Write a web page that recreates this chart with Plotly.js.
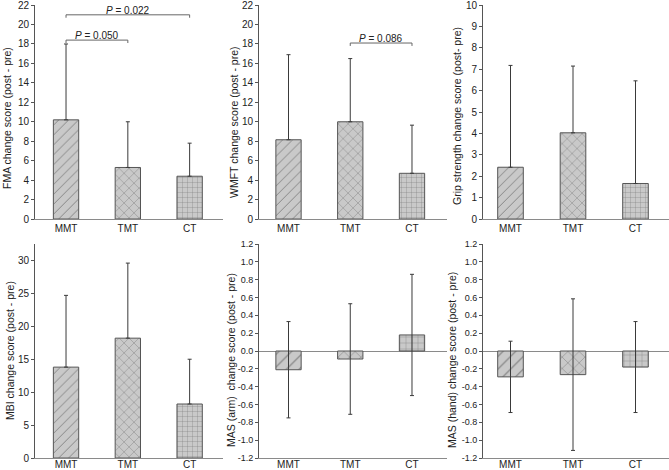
<!DOCTYPE html>
<html>
<head>
<meta charset="utf-8">
<script src="https://cdn.plot.ly/plotly-3.0.1.min.js"></script>
<style>html,body{margin:0;padding:0;background:#fff;}#chart{width:669px;height:470px;}</style>
</head>
<body>
<div id="chart"></div>
<script>
// ---- data ----
const categories = ['MMT', 'TMT', 'CT'];
const patterns = ['/', 'x', '+'];

const fmaMean = [10.2, 5.3, 4.4];
const fmaSD = [7.8, 4.7, 3.4];
const wmftMean = [8.15, 10.0, 4.7];
const wmftSD = [8.75, 6.5, 4.95];
const gripMean = [2.42, 4.03, 1.66];
const gripSD = [4.76, 3.12, 4.8];
const mbiMean = [13.8, 18.2, 8.2];
const mbiSD = [10.9, 11.4, 6.8];
const masArmMean = [-0.21, -0.09, 0.18];
const masArmSD = [0.54, 0.62, 0.68];
const masHandMean = [-0.29, -0.265, -0.18];
const masHandSD = [0.40, 0.85, 0.51];

const titles = [
  'FMA change score (post - pre)',
  'WMFT change score (post - pre)',
  'Grip strength change score (post- pre)',
  'MBI change score (post - pre)',
  'MAS (arm)  change score (post - pre)',
  'MAS (hand) change score (post - pre)'
];

const masTickVals = [-1.2, -1.0, -0.8, -0.6, -0.4, -0.2, 0.0, 0.2, 0.4, 0.6, 0.8, 1.0, 1.2];
const masTickText = ['-1.2', '-1.0', '-0.8', '-0.6', '-0.4', '-0.2', '0.0', '0.2', '0.4', '0.6', '0.8', '1.0', '1.2'];

// significance comparisons
const compPanel = [1, 1, 2];
const compFrom = ['MMT', 'MMT', 'TMT'];
const compTo = ['TMT', 'CT', 'CT'];
const compY = [18.4, 21.0, 18.1];
const compLabel = ['<i>P</i> = 0.050', '<i>P</i> = 0.022', '<i>P</i> = 0.086'];

// ---- build ----
const FONT = 'Liberation Sans, Arial, sans-serif';
const panels = [
  {mean: fmaMean, sd: fmaSD, oneSided: true, size: [7, 7, 5]},
  {mean: wmftMean, sd: wmftSD, oneSided: true, size: [7, 7, 5]},
  {mean: gripMean, sd: gripSD, oneSided: true, size: [7, 7, 5]},
  {mean: mbiMean, sd: mbiSD, oneSided: true, size: [7, 7, 5]},
  {mean: masArmMean, sd: masArmSD, oneSided: false, size: [9, 8, 6]},
  {mean: masHandMean, sd: masHandSD, oneSided: false, size: [9, 8, 6]}
];

const traces = panels.map((p, i) => ({
  type: 'bar',
  x: categories,
  y: p.mean,
  xaxis: 'x' + (i + 1),
  yaxis: 'y' + (i + 1),
  width: 0.41,
  marker: {
    color: '#c9c9c9',
    line: {color: '#555', width: 1},
    pattern: {shape: patterns, size: p.size, solidity: 0.12, fgcolor: '#7a7a7a', bgcolor: '#c9c9c9', fillmode: 'replace'}
  },
  error_y: {
    type: 'data', array: p.sd,
    arrayminus: p.oneSided ? p.sd.map(() => 0) : p.sd,
    symmetric: false,
    color: '#3a3a3a', thickness: 1, width: 2
  },
  hoverinfo: 'skip',
  showlegend: false
}));

const W = 669, H = 470;
const xDom = [[35 / W, 223 / W], [259 / W, 447 / W], [483 / W, 1.0]];
const xRng = [[-0.502, 2.54], [-0.478, 2.567], [-0.44, 2.536]];
const yDom = [[1 - 219 / H, 1 - 5 / H], [1 - 458 / H, 1 - 244 / H]];
const yRanges = [[0, 22.01], [0, 22.01], [0, 10.005], [0, 32.5], [-1.2, 1.2], [-1.2, 1.2]];
const yDticks = [2, 2, 1, 5, 0.2, 0.2];
const yTickSize = [10, 10, 10, 10, 9, 9];
// axis-title centre positions (px from left / top)
const titleCx = [7, 234, 457, 10, 231, 452];
const titleCy = [118, 122, 116, 351, 360, 360];

const layout = {
  width: W, height: H,
  margin: {l: 0, r: 0, t: 0, b: 0},
  paper_bgcolor: '#fff', plot_bgcolor: '#fff',
  font: {family: FONT, size: 10, color: '#222'},
  shapes: [], annotations: []
};

for (let i = 0; i < 6; i++) {
  const col = i % 3, row = Math.floor(i / 3);
  const mas = i >= 4;
  layout['xaxis' + (i + 1)] = {
    domain: xDom[col], anchor: 'y' + (i + 1),
    type: 'category', range: xRng[col],
    showline: true, linecolor: '#8a8a8a', linewidth: 1,
    ticks: '', showgrid: false, zeroline: false,
    automargin: false, ticklabeloverflow: 'allow',
    ticklabelstandoff: row === 1 ? -3 : 0,
    tickfont: {family: FONT, size: 10, color: '#222'},
    fixedrange: true
  };
  const ya = {
    domain: yDom[row], anchor: 'x' + (i + 1),
    range: yRanges[i],
    showline: true, linecolor: '#555', linewidth: 1,
    ticks: 'outside', ticklen: 3, tickwidth: 1, tickcolor: '#555',
    showgrid: false,
    zeroline: mas, zerolinecolor: '#8a8a8a', zerolinewidth: 1,
    automargin: false, ticklabeloverflow: 'allow',
    tickfont: {family: FONT, size: yTickSize[i], color: '#222'},
    fixedrange: true
  };
  if (mas) {
    ya.tickmode = 'array';
    ya.tickvals = masTickVals;
    ya.ticktext = masTickText;
  } else {
    ya.dtick = yDticks[i];
    ya.tick0 = 0;
  }
  layout['yaxis' + (i + 1)] = ya;
  layout.annotations.push({
    xref: 'paper', yref: 'paper',
    x: titleCx[i] / W, y: 1 - titleCy[i] / H,
    xanchor: 'center', yanchor: 'middle',
    text: titles[i], textangle: -90, showarrow: false,
    font: {family: FONT, size: 10.5, color: '#222'}
  });
}

// significance brackets
const tickDrop = [0.3, 0.3, 0.3];
compPanel.forEach((p, k) => {
  const xr = 'x' + p, yr = 'y' + p;
  const a = categories.indexOf(compFrom[k]);
  const b = categories.indexOf(compTo[k]);
  const y = compY[k];
  const line = {color: '#666', width: 1};
  layout.shapes.push({type: 'line', xref: xr, yref: yr, x0: a, x1: b, y0: y, y1: y, line: line});
  layout.shapes.push({type: 'line', xref: xr, yref: yr, x0: a, x1: a, y0: y, y1: y - tickDrop[k], line: line});
  layout.shapes.push({type: 'line', xref: xr, yref: yr, x0: b, x1: b, y0: y, y1: y - tickDrop[k], line: line});
  layout.annotations.push({
    xref: xr, yref: yr, x: (a + b) / 2, y: y,
    text: compLabel[k], showarrow: false,
    xanchor: 'center', yanchor: 'bottom', yshift: -3,
    font: {family: FONT, size: 10, color: '#222'}
  });
});

Plotly.newPlot('chart', traces, layout, {displayModeBar: false, staticPlot: true});
</script>
</body>
</html>
